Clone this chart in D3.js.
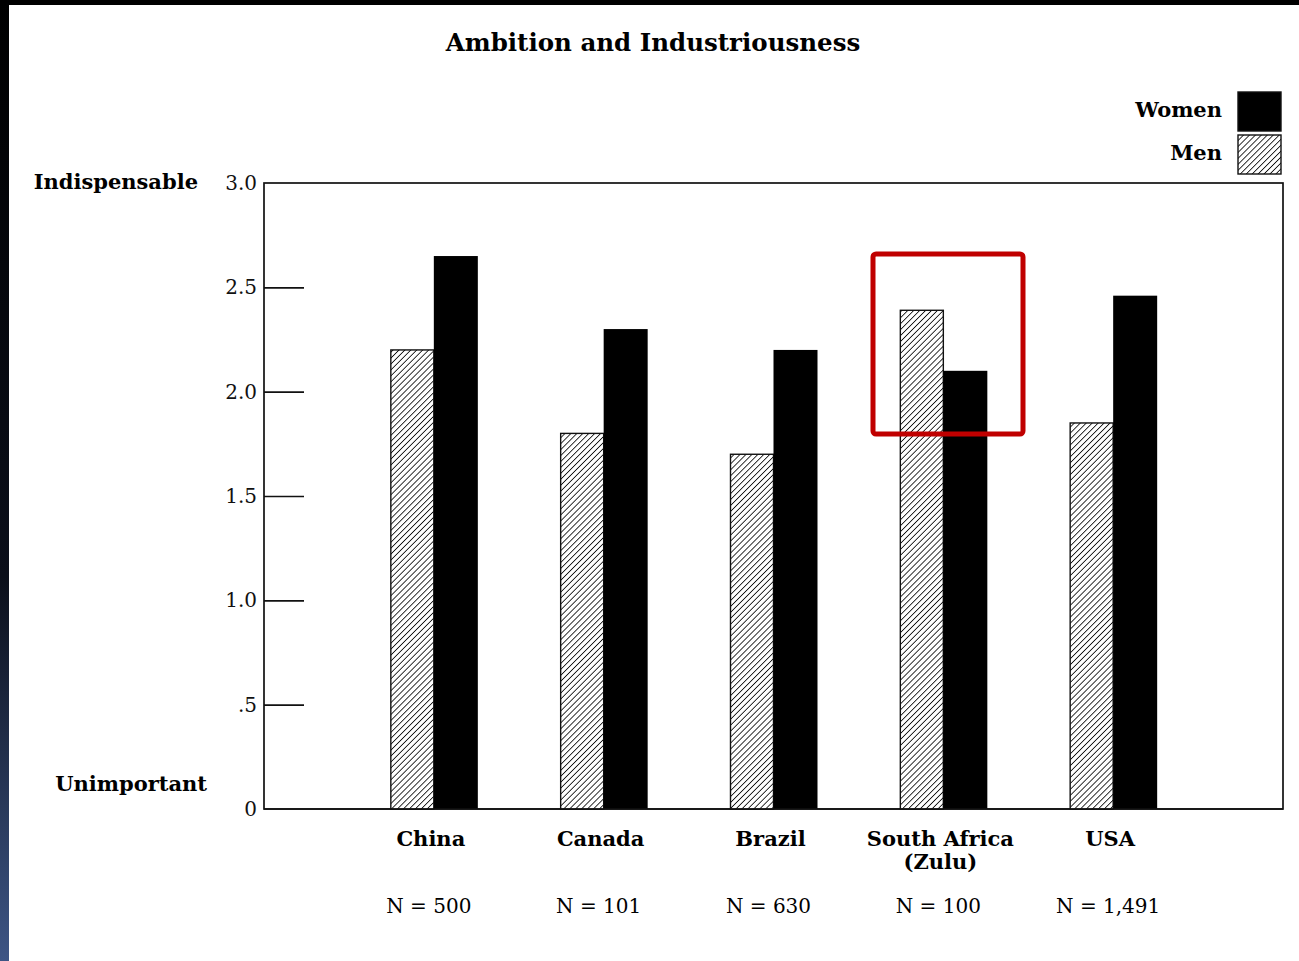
<!DOCTYPE html>
<html><head><meta charset="utf-8">
<script src="https://cdn.jsdelivr.net/npm/d3@7"></script>
<style>body{margin:0;background:#fff;} svg{display:block;}</style>
</head><body>
<svg id="c" width="1299" height="961"></svg>
<script>
const categories = ["China", "Canada", "Brazil", "South Africa", "USA"];
const categoryLines = [["China"], ["Canada"], ["Brazil"], ["South Africa", "(Zulu)"], ["USA"]];
const sampleSizes = ["N = 500", "N = 101", "N = 630", "N = 100", "N = 1,491"];
const menValues = [2.2, 1.8, 1.7, 2.39, 1.85];
const womenValues = [2.65, 2.3, 2.2, 2.1, 2.46];
const tickValues = [0, 0.5, 1.0, 1.5, 2.0, 2.5, 3.0];
const tickLabels = ["0", ".5", "1.0", "1.5", "2.0", "2.5", "3.0"];
const series = ["Women", "Men"];

const svg = d3.select("#c");
const W = 1299, H = 961;
const pLeft = 264, pRight = 1283, pTop = 183, pBottom = 809;
const serif = "'DejaVu Serif', serif";

// page frame (scan edges)
const defs = svg.append("defs");
const grad = defs.append("linearGradient").attr("id","edge").attr("x1",0).attr("y1",0).attr("x2",0).attr("y2",1);
grad.append("stop").attr("offset","0").attr("stop-color","#000");
grad.append("stop").attr("offset","0.6").attr("stop-color","#0b0f1a");
grad.append("stop").attr("offset","1").attr("stop-color","#3d5585");
svg.append("rect").attr("x",0).attr("y",0).attr("width",W).attr("height",H).attr("fill","#fff");
svg.append("rect").attr("x",0).attr("y",0).attr("width",W).attr("height",5).attr("fill","#000");
svg.append("rect").attr("x",0).attr("y",0).attr("width",9).attr("height",H).attr("fill","url(#edge)");

const pat = defs.append("pattern").attr("id","hatch").attr("patternUnits","userSpaceOnUse")
  .attr("width",4.2).attr("height",4.2).attr("patternTransform","rotate(45)");
pat.append("rect").attr("width",4.2).attr("height",4.2).attr("fill","#fff");
pat.append("line").attr("x1",0).attr("y1",0).attr("x2",0).attr("y2",4.2).attr("stroke","#111").attr("stroke-width",1.7);

const x = d3.scalePoint().domain(categories).range([pLeft, pRight]).padding(1);
const y = d3.scaleLinear().domain([0, 3]).range([pBottom, pTop]);
const barW = 43;

// title
svg.append("text").attr("x", 653).attr("y", 51).attr("text-anchor","middle")
  .attr("font-family", serif).attr("font-weight","bold").attr("font-size",24.5).text("Ambition and Industriousness");

// frame
svg.append("rect").attr("x",pLeft).attr("y",pTop).attr("width",pRight-pLeft).attr("height",pBottom-pTop)
  .attr("fill","none").attr("stroke","#111").attr("stroke-width",1.7);

// y axis ticks
const yAxis = d3.axisLeft(y).tickValues(tickValues).tickSize(-40).tickPadding(7)
  .tickFormat((d,i)=>tickLabels[i]);
const ga = svg.append("g").attr("transform",`translate(${pLeft},0)`).call(yAxis);
ga.select(".domain").remove();
ga.selectAll(".tick line").attr("stroke","#111").attr("stroke-width",1.7)
  .filter(d=>d===0||d===3).remove();
ga.selectAll(".tick text").attr("font-family",serif).attr("font-size",20).attr("fill","#111")
  .attr("dy","0.32em");

svg.append("text").attr("x",198).attr("y",189).attr("text-anchor","end").attr("font-family",serif)
  .attr("font-weight","bold").attr("font-size",21).text("Indispensable");
svg.append("text").attr("x",207).attr("y",791).attr("text-anchor","end").attr("font-family",serif)
  .attr("font-weight","bold").attr("font-size",21).text("Unimportant");

// bars
const g = svg.append("g");
categories.forEach((c,i)=>{
  const cx = x(c);
  g.append("rect").attr("x",cx-barW).attr("y",y(menValues[i])).attr("width",barW)
    .attr("height",y(0)-y(menValues[i])).attr("fill","url(#hatch)").attr("stroke","#111").attr("stroke-width",1.4);
  g.append("rect").attr("x",cx).attr("y",y(womenValues[i])).attr("width",barW+1)
    .attr("height",y(0)-y(womenValues[i])).attr("fill","#000");
  categoryLines[i].forEach((t,j)=>{
    svg.append("text").attr("x",cx-3).attr("y",846+j*23).attr("text-anchor","middle")
      .attr("font-family",serif).attr("font-weight","bold").attr("font-size",21).text(t);
  });
  svg.append("text").attr("x",cx-5).attr("y",913).attr("text-anchor","middle")
    .attr("font-family",serif).attr("font-size",20).text(sampleSizes[i]);
});
// redraw bottom line over bars
svg.append("line").attr("x1",pLeft).attr("x2",pRight).attr("y1",pBottom).attr("y2",pBottom).attr("stroke","#111").attr("stroke-width",1.7);

// legend
series.forEach((s,i)=>{
  const yy = 92 + i*43;
  svg.append("rect").attr("x",1238).attr("y",yy).attr("width",43).attr("height",39)
    .attr("fill", s==="Women" ? "#000" : "url(#hatch)").attr("stroke","#111").attr("stroke-width",1.4);
  svg.append("text").attr("x",1222).attr("y",yy+25).attr("text-anchor","end")
    .attr("font-family",serif).attr("font-weight","bold").attr("font-size",21).text(s);
});

// highlight annotation
svg.append("rect").attr("x",873).attr("y",254).attr("width",150).attr("height",180).attr("rx",3)
  .attr("fill","none").attr("stroke","#c00000").attr("stroke-width",5);
</script>
</body></html>
